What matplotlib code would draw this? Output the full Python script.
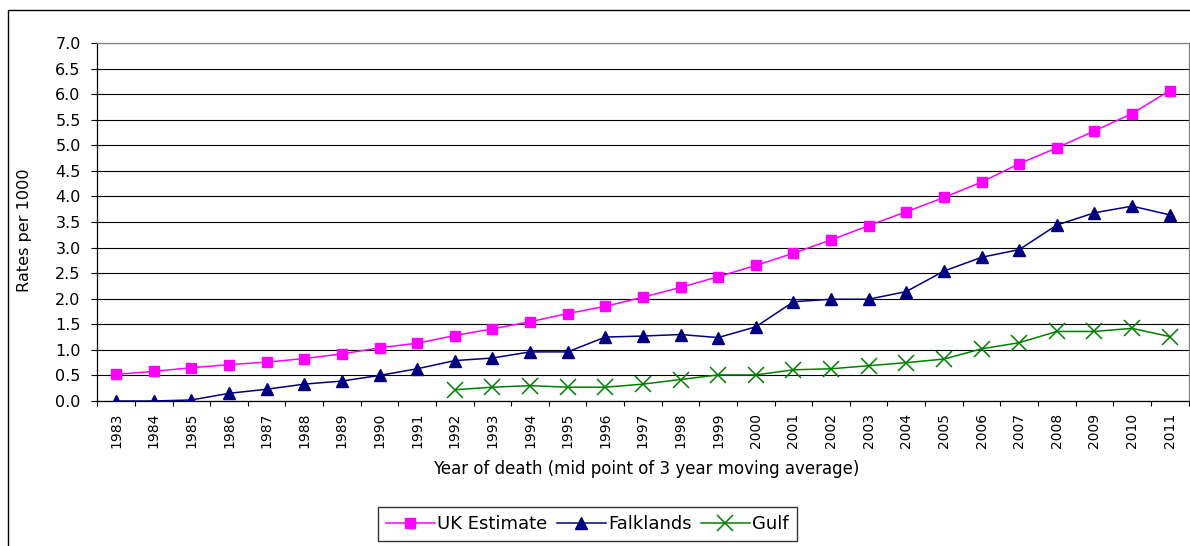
import numpy as np
import matplotlib
matplotlib.use("Agg")
import matplotlib.pyplot as plt
from matplotlib.patches import Rectangle
from matplotlib.ticker import MultipleLocator, FormatStrFormatter

years = [str(y) for y in range(1983, 2012)]

uk_estimate = [0.52, 0.58, 0.65, 0.71, 0.76, 0.83, 0.92, 1.04, 1.13, 1.28,
               1.41, 1.55, 1.71, 1.85, 2.03, 2.22, 2.43, 2.65, 2.89, 3.15,
               3.43, 3.70, 3.98, 4.28, 4.64, 4.95, 5.28, 5.62, 6.07]

falklands = [0.00, 0.00, 0.02, 0.15, 0.23, 0.33, 0.39, 0.50, 0.63, 0.79,
             0.84, 0.96, 0.96, 1.25, 1.27, 1.30, 1.24, 1.45, 1.94, 1.99,
             1.99, 2.14, 2.54, 2.81, 2.96, 3.44, 3.68, 3.81, 3.64]

gulf = [np.nan, np.nan, np.nan, np.nan, np.nan, np.nan, np.nan, np.nan, np.nan, 0.22,
        0.27, 0.30, 0.27, 0.27, 0.33, 0.42, 0.51, 0.51, 0.61, 0.63,
        0.69, 0.75, 0.82, 1.02, 1.14, 1.36, 1.36, 1.42, 1.26]

y_label = "Rates per 1000"
x_label = "Year of death (mid point of 3 year moving average)"

plt.rcParams['font.family'] = ['DejaVu Sans']

W, H = 1190, 546
fig = plt.figure(figsize=(W / 100, H / 100), dpi=100)
fig.patch.set_facecolor('white')

# outer chart frame (extends past right/bottom edges)
fig.patches.append(Rectangle((7.5 / W, -0.1), 1.2, 1 - 10 / H + 0.1,
                             transform=fig.transFigure, fill=False,
                             edgecolor='black', linewidth=1.0, clip_on=False))

left, right, top, bottom = 97.3, 1188.5, 43.0, 401.0
ax = fig.add_axes([left / W, 1 - bottom / H, (right - left) / W, (bottom - top) / H])

x = np.arange(len(years))
ax.plot(x, uk_estimate, color='#FF00FF', marker='s', markersize=7,
        linewidth=1.1, label='UK Estimate', zorder=4)
ax.plot(x, falklands, color='#000080', marker='^', markersize=8.5,
        linewidth=1.1, label='Falklands', zorder=4)
ax.plot(x, gulf, color='#008000', marker='x', markersize=11, markeredgewidth=1.1,
        linewidth=1.1, label='Gulf', zorder=4)

ax.set_xlim(-0.5, len(years) - 0.5)
ax.set_ylim(0, 7.0)

ax.yaxis.set_major_locator(MultipleLocator(0.5))
ax.yaxis.set_major_formatter(FormatStrFormatter('%.1f'))
ax.grid(axis='y', color='black', linewidth=0.8, zorder=1)
ax.set_axisbelow(True)

ax.set_xticks(x)
ax.set_xticklabels(years, rotation=90, fontsize=10)
ax.set_xticks(np.arange(-0.5, len(years)), minor=True)
ax.tick_params(axis='x', which='major', length=0, pad=8.6)
ax.tick_params(axis='x', which='minor', length=3.6, width=0.8, direction='out')
ax.tick_params(axis='y', which='major', length=4, width=0.8, pad=8, labelsize=11.5)

for s in ['left', 'bottom']:
    ax.spines[s].set_color('black')
    ax.spines[s].set_linewidth(0.9)
for s in ['top', 'right']:
    ax.spines[s].set_color('#808080')
    ax.spines[s].set_linewidth(0.9)

ax.set_xlabel(x_label, fontsize=12)
ax.xaxis.set_label_coords(0.503, -0.165)
ax.set_ylabel(y_label, fontsize=11.6)
ax.yaxis.set_label_coords(-0.0598, 0.478)

leg = fig.legend(loc='center', bbox_to_anchor=(587.5 / W, 1 - 524 / H),
                 bbox_transform=fig.transFigure, ncol=3, fontsize=13,
                 frameon=True, fancybox=False, shadow=False,
                 edgecolor='black', handlelength=2.7, handletextpad=0.15,
                 columnspacing=0.5, borderpad=0.45, borderaxespad=0)
leg.get_frame().set_linewidth(1.0)

fig.savefig('out.png', dpi=100, facecolor='white')
